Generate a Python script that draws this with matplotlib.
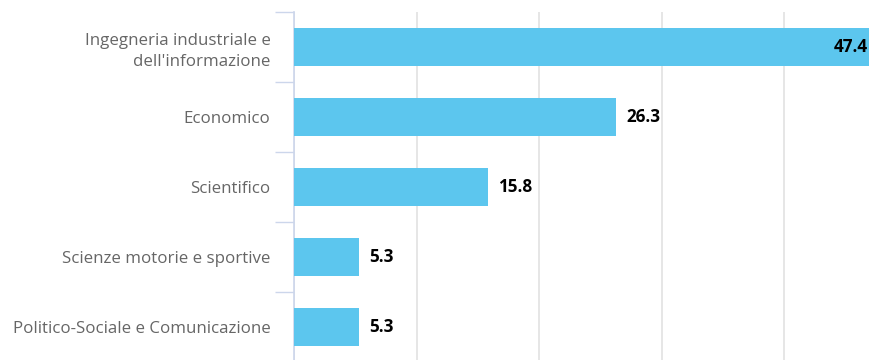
import matplotlib
matplotlib.use("Agg")
import matplotlib.pyplot as plt
from matplotlib.transforms import offset_copy

categories = ["Ingegneria industriale e\ndell'informazione", "Economico", "Scientifico",
              "Scienze motorie e sportive", "Politico-Sociale e Comunicazione"]
values = [47.4, 26.3, 15.8, 5.3, 5.3]
xticks = [0, 10, 20, 30, 40]

plt.rcParams['font.family'] = ['Open Sans', 'DejaVu Sans']

W, H = 870, 360
fig = plt.figure(figsize=(W / 100, H / 100), dpi=100)
left, right, top, bottom = 294, 870, 12, 362
ax = fig.add_axes([left / W, 1 - bottom / H, (right - left) / W, (bottom - top) / H])

bar_color = "#5CC6EE"
ypos = list(range(len(categories)))
ax.barh(ypos, values, height=0.54, color=bar_color, zorder=3)

xmax = 47.0
ax.set_xlim(0, xmax)
ax.set_ylim(len(categories) - 0.5, -0.5)

ax.set_xticks(xticks)
ax.xaxis.grid(True, color="#e2e2e2", linewidth=1.2, zorder=0)
ax.tick_params(axis="x", length=0, labelbottom=False)

# category boundary ticks
ax.set_yticks([i - 0.5 for i in range(len(categories))], minor=True)
ax.set_yticks(ypos)
ax.set_yticklabels(categories, fontsize=12.2, color="#666666", linespacing=1.4)
ax.tick_params(axis="y", which="major", length=0, pad=17)
ax.tick_params(axis="y", which="minor", length=14, width=1, color="#ccd6eb")

for s in ["top", "right", "bottom"]:
    ax.spines[s].set_visible(False)
ax.spines["left"].set_color("#ccd6eb")
ax.spines["left"].set_linewidth(1.2)

for i, v in enumerate(values):
    if v > xmax:
        t = offset_copy(ax.transData, fig=fig, x=-2, y=0, units="dots")
        ax.text(xmax, i, f"{v}", transform=t, ha="right", va="center",
                fontsize=12.3, fontweight="bold", color="black", zorder=4)
    else:
        t = offset_copy(ax.transData, fig=fig, x=10, y=0, units="dots")
        ax.text(v, i, f"{v}", transform=t, ha="left", va="center",
                fontsize=12.3, fontweight="bold", color="black", zorder=4)

fig.savefig("out.png", dpi=100)
